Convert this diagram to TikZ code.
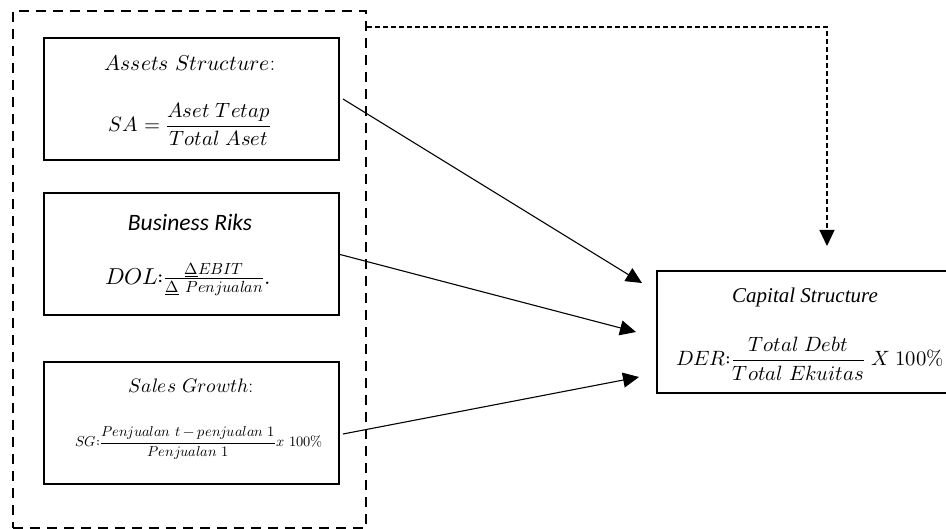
\documentclass[tikz,border=0pt]{standalone}
\usepackage{fontspec}
\usepackage{amsmath}
\usepackage{unicode-math}
\usetikzlibrary{arrows.meta}
\setmathfont{Latin Modern Math}
\newfontfamily\calibrifont{Carlito}
\newfontfamily\timesfont{Liberation Serif}

\tikzset{
  varbox/.style={draw, line width=2pt, minimum width=295pt, minimum height=122pt, inner sep=0pt},
  groupbox/.style={draw, line width=2.4pt, dash pattern=on 10pt off 7pt, inner sep=0pt},
  link/.style={line width=1.1pt, -{Triangle[length=16pt,width=15pt]}},
  dashlink/.style={line width=1.1pt, dash pattern=on 5pt off 3pt, -{Triangle[length=16pt,width=15pt]}},
}

\begin{document}
\begin{tikzpicture}[x=1pt,y=-1pt]
\useasboundingbox (0,0) rectangle (946,529);
% group of independent variables
\node [groupbox, minimum width=353pt, minimum height=517pt] (group) at (189.5,269.5) {};
% variable boxes
\node [varbox] (assets) at (191.5,99) {};
\node [varbox] (business) at (191.5,254.5) {};
\node [varbox] (sales) at (191.5,423) {};
\node [varbox] (capital) at (804.5,332) {};
% texts
\node [font=\fontsize{21.5}{25}\selectfont] (assetstitle) at (190,63) {$Assets\ Structure$:};
\node [font=\fontsize{20.7}{24}\selectfont] (assetsformula) at (190,124)
  {$\displaystyle SA=\frac{Aset\ Tetap}{Total\ Aset}$};
\node [font=\calibrifont\itshape\fontsize{23.5}{27}\selectfont] (businesstitle) at (190,222) {Business Riks};
\node [font=\fontsize{23}{27}\selectfont] (businessformula) at (188,279)
  {$DOL{:}\frac{\underline{\Delta}EBIT}{\underline{\Delta}\ Penjualan}.$};
\node [font=\fontsize{19.5}{23}\selectfont] (salestitle) at (191,386) {$Sales\ Growth$:};
\node [font=\fontsize{14.4}{17}\selectfont] (salesformula) at (199,443)
  {$\displaystyle SG{:}\frac{Penjualan\ t-penjualan\ 1}{Penjualan\ 1}x\ 100\%$};
\node [font=\timesfont\itshape\fontsize{21}{25}\selectfont] (capitaltitle) at (805,297) {Capital Structure};
\node [font=\fontsize{20.7}{24}\selectfont] (capitalformula) at (810,359)
  {$\displaystyle DER{:}\frac{Total\ Debt}{Total\ Ekuitas}\ X\ 100\%$};
% arrows
\draw [link] ([shift={(3,0)}]assets.east) -- ([shift={(-14,-49)}]capital.west);
\draw [link] (business.east) -- ([shift={(-20,0)}]capital.west);
\draw [link] ([shift={(3,11)}]sales.east) -- ([shift={(-17,45)}]capital.west);
\coordinate (corner) at (827,27);
\draw [dashlink, shorten >=24pt] (group.east |- corner) -- (corner) -- (corner |- capital.north);
\end{tikzpicture}
\end{document}
